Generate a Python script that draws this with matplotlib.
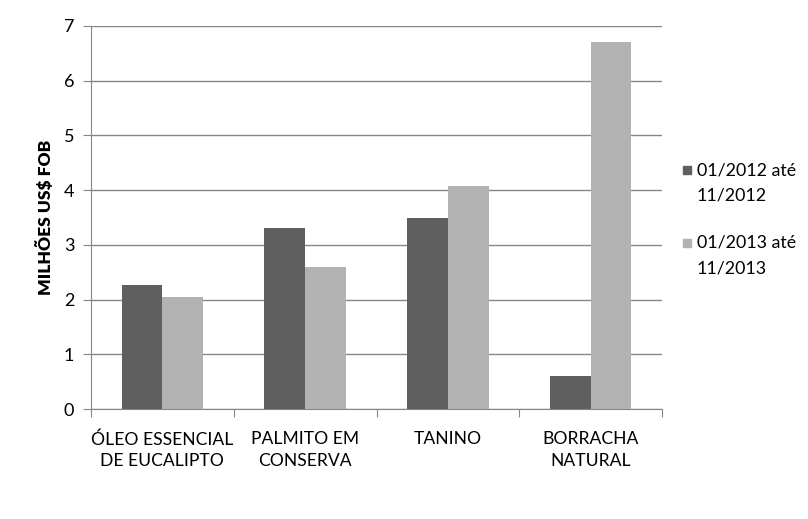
import matplotlib.pyplot as plt
import numpy as np
from matplotlib.patches import Rectangle

categories = ["ÓLEO ESSENCIAL\nDE EUCALIPTO", "PALMITO EM\nCONSERVA", "TANINO", "BORRACHA\nNATURAL"]
series_names = ["01/2012 até\n11/2012", "01/2013 até\n11/2013"]
values_2012 = [2.27, 3.31, 3.49, 0.60]
values_2013 = [2.05, 2.60, 4.08, 6.71]

colors = ["#5f5f5f", "#b2b2b2"]
grid_color = "#868686"

plt.rcParams['font.family'] = ['Lato', 'DejaVu Sans']

fig = plt.figure(figsize=(8.08, 5.19), dpi=100)
ax = fig.add_axes([91/808, 1 - 409/519, (662 - 91)/808, (409 - 26)/519])

x = np.arange(len(categories))
w = 1 / 3.5
ax.bar(x - w/2, values_2012, width=w, color=colors[0], zorder=3)
ax.bar(x + w/2, values_2013, width=w, color=colors[1], zorder=3)

ax.set_xlim(-0.5, len(categories) - 0.5)
ax.set_ylim(0, 7)
ax.set_yticks(range(8))
ax.yaxis.grid(True, color=grid_color, linewidth=1, zorder=0)

# category boundaries as tick marks, labels centered
ax.set_xticks(np.arange(len(categories) + 1) - 0.5)
ax.set_xticklabels([])
ax.set_xticks(x, minor=True)
ax.set_xticklabels(categories, minor=True, fontsize=12.6, linespacing=1.42)
ax.tick_params(axis='x', which='minor', length=0, pad=16)
ax.tick_params(axis='x', which='major', length=6, color=grid_color)
ax.tick_params(axis='y', length=6, color=grid_color, labelsize=13, pad=6)

for s in ['top', 'right']:
    ax.spines[s].set_visible(False)
ax.spines['left'].set_color(grid_color)
ax.spines['bottom'].set_color(grid_color)

ax.set_ylabel("MILHÕES US$ FOB", fontsize=12.5, fontweight='heavy', labelpad=7)

# legend drawn by hand: square aligned with first text line
W, H = 808, 519
for i, (name, c) in enumerate(zip(series_names, colors)):
    yc = 170 + i * 73
    fig.patches.append(Rectangle((683 / W, 1 - (yc + 4) / H), 8 / W, 8 / H,
                                 transform=fig.transFigure, color=c, figure=fig))
    fig.text(697 / W, 1 - (yc - 8) / H, name, fontsize=12.8, va='top', ha='left',
             linespacing=1.72)

fig.savefig("out.png", dpi=100)
